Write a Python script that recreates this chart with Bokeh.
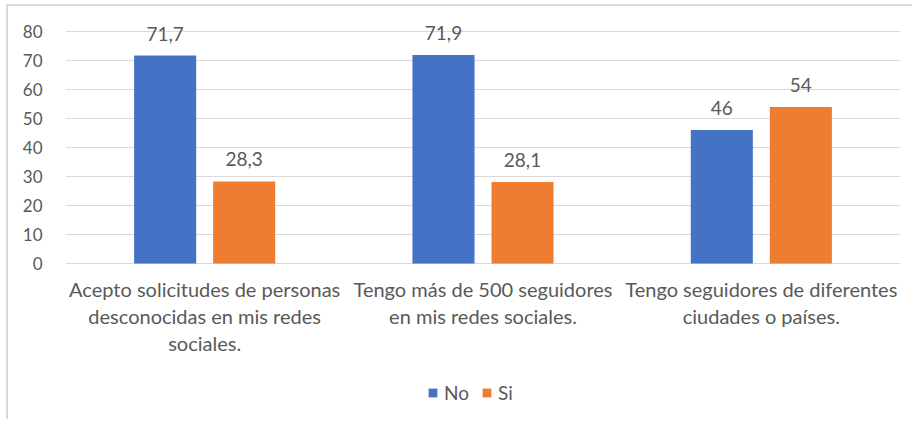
from bokeh.plotting import figure
from bokeh.models import (FactorRange, Range1d, FixedTicker, ColumnDataSource, LabelSet,
                          Legend, LegendItem)
from bokeh.core.properties import value
from bokeh.transform import dodge
from bokeh.embed import file_html
from bokeh.resources import INLINE

categories = ["c1", "c2", "c3"]
category_labels = [
    "Acepto solicitudes de personas\ndesconocidas en mis redes\nsociales.",
    "Tengo más de 500 seguidores\nen mis redes sociales.",
    "Tengo seguidores de diferentes\nciudades o países.",
]
series_names = ["No", "Si"]
no_values = [71.7, 71.9, 46]
si_values = [28.3, 28.1, 54]
y_ticks = [0, 10, 20, 30, 40, 50, 60, 70, 80]

FONT = "Lato"
TXT = "#595959"
GRID = "#d9d9d9"
BLUE = "#4472C4"
ORANGE = "#ED7D31"


def fmt(v):
    s = ("%.1f" % v).rstrip("0").rstrip(".")
    return s.replace(".", ",")


src = ColumnDataSource(dict(
    cat=categories,
    no=no_values,
    si=si_values,
    no_lbl=[fmt(v) for v in no_values],
    si_lbl=[fmt(v) for v in si_values],
))

W, H = 906, 415
TOP, LEFT, RIGHT = 4, 57, 14
top_pad_px = 21            # space between frame top and the 80 gridline
frame_h = H - TOP
px_per_unit = 2.9
y_end = y_ticks[-1] + top_pad_px / px_per_unit
y_start = y_end - frame_h / px_per_unit

p = figure(width=W, height=H, output_backend="svg", toolbar_location=None,
           x_range=FactorRange(*categories, range_padding=0),
           y_range=Range1d(y_start, y_end),
           min_border_left=LEFT, min_border_right=RIGHT, min_border_top=TOP, min_border_bottom=0)
p.styles = {"border-left": "2px solid #d9d9d9", "border-top": "2px solid #d9d9d9",
            "margin-left": "6px", "margin-top": "4px"}
p.outline_line_color = None

bw = 0.223
off = 0.142
r1 = p.vbar(x=dodge("cat", -off, range=p.x_range), top="no", bottom=0, width=bw, source=src,
            fill_color=BLUE, line_color=None)
r2 = p.vbar(x=dodge("cat", off, range=p.x_range), top="si", bottom=0, width=bw, source=src,
            fill_color=ORANGE, line_color=None)

for field, lbl, d in (("no", "no_lbl", -off), ("si", "si_lbl", off)):
    ls = LabelSet(x=dodge("cat", d, range=p.x_range), y=field, text=lbl, source=src,
                  text_align="center", text_baseline="middle", y_offset=22,
                  text_font=value(FONT), text_font_size="19px", text_color=TXT)
    p.add_layout(ls)

# category labels below the baseline, one LabelSet per text line
split = [t.split("\n") for t in category_labels]
nlines = max(len(s) for s in split)
for i in range(nlines):
    cats = [c for c, s in zip(categories, split) if len(s) > i]
    texts = [s[i] for s in split if len(s) > i]
    lsrc = ColumnDataSource(dict(cat=cats, y=[0] * len(cats), t=texts))
    p.add_layout(LabelSet(x="cat", y="y", text="t", source=lsrc, y_offset=-(25 + 27 * i),
                          text_align="center", text_baseline="middle",
                          text_font=value(FONT), text_font_size="20px", text_color=TXT))

p.yaxis.ticker = FixedTicker(ticks=y_ticks)
p.yaxis.axis_line_color = None
p.yaxis.major_tick_line_color = None
p.yaxis.minor_tick_line_color = None
p.yaxis.major_label_text_font = FONT
p.yaxis.major_label_text_font_size = "17px"
p.yaxis.major_label_text_color = TXT
p.yaxis.major_label_standoff = 17

p.xaxis.visible = False
p.xgrid.grid_line_color = None
p.ygrid.grid_line_color = GRID
p.ygrid.grid_line_width = 1.2

legend = Legend(items=[LegendItem(label=series_names[0], renderers=[r1]),
                       LegendItem(label=series_names[1], renderers=[r2])],
                orientation="horizontal", location=(362, 17),
                glyph_width=11, glyph_height=11, label_standoff=6, spacing=12,
                label_text_font=FONT, label_text_font_size="19px", label_text_color=TXT,
                border_line_color=None, background_fill_alpha=0, padding=0, margin=0)
p.add_layout(legend)

open("out.html", "w").write(file_html(p, INLINE))
